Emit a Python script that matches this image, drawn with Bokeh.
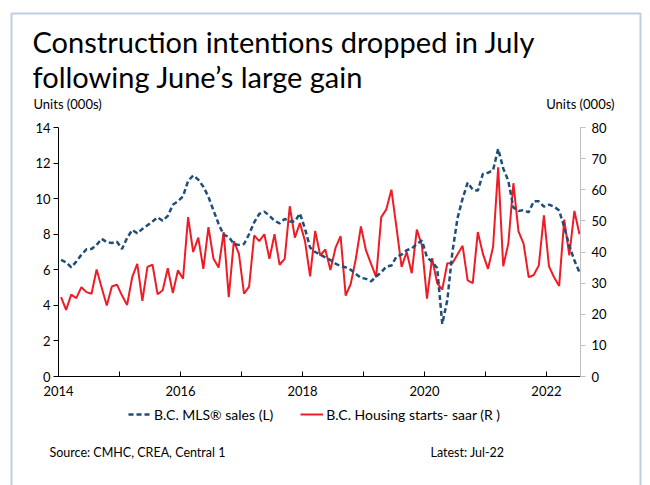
import pandas as pd
from bokeh.plotting import figure
from bokeh.models import (Range1d, LinearAxis, FixedTicker, Label, Legend, LegendItem,
                          BoxAnnotation, ColumnDataSource)
from bokeh.embed import file_html
from bokeh.resources import INLINE

# ---------------- data ----------------
months = pd.period_range("2014-01", "2022-07", freq="M")

mls_sales = [  # B.C. MLS sales, 000s units (left axis)
    6.56, 6.42, 6.14, 6.46, 6.85, 7.15, 7.17, 7.40, 7.74, 7.55, 7.51, 7.58,
    7.17, 7.79, 8.24, 8.05, 8.30, 8.50, 8.72, 8.95, 8.76, 9.03, 9.66, 9.85,
    10.13, 11.00, 11.30, 11.07, 10.67, 10.10, 9.33, 8.58, 7.96, 7.85, 7.45, 7.40,
    7.45, 8.00, 8.67, 9.14, 9.27, 9.04, 8.76, 8.61, 8.86, 8.72, 8.72, 9.17,
    8.30, 7.25, 7.00, 6.85, 6.70, 6.55, 6.35, 6.20, 6.14, 6.00, 5.77, 5.55,
    5.49, 5.35, 5.62, 5.86, 6.18, 6.24, 6.74, 6.85, 7.10, 7.20, 7.45, 7.65,
    6.70, 6.45, 6.10, 2.96, 4.30, 7.00, 8.90, 10.00, 10.90, 10.50, 10.45, 11.40,
    11.45, 11.60, 12.80, 11.70, 11.00, 9.50, 9.30, 9.36, 9.23, 9.85, 9.85, 9.55,
    9.66, 9.55, 9.33, 8.40, 7.36, 6.52, 5.86,
]

housing_starts = [  # B.C. housing starts, SAAR, 000s units (right axis)
    25.5, 21.4, 26.3, 25.2, 28.7, 27.1, 26.6, 34.4, 28.5, 22.8, 28.9, 29.5,
    26.0, 23.0, 31.9, 36.2, 24.3, 35.2, 35.9, 26.4, 27.7, 34.8, 26.8, 34.1,
    31.4, 51.2, 40.0, 44.6, 34.6, 48.0, 37.8, 35.0, 46.4, 25.5, 43.5, 39.4,
    26.6, 28.9, 45.3, 43.5, 45.7, 37.8, 45.7, 35.9, 37.8, 54.7, 44.6, 49.3,
    43.5, 32.2, 46.8, 38.9, 40.8, 34.2, 41.3, 45.1, 26.0, 29.8, 37.8, 48.2,
    40.5, 36.2, 31.9, 51.2, 53.7, 60.0, 47.8, 35.2, 40.0, 33.2, 47.2, 42.1,
    25.0, 38.0, 30.0, 27.9, 36.4, 36.4, 39.2, 42.0, 30.9, 30.0, 46.4, 39.4,
    34.6, 41.6, 67.2, 35.4, 42.7, 62.1, 46.6, 42.7, 31.9, 32.6, 35.7, 51.8,
    35.4, 31.9, 29.1, 50.4, 38.9, 53.2, 45.7,
]

year_ticks = list(range(2014, 2023))
left_ticks = [0, 2, 4, 6, 8, 10, 12, 14]
right_ticks = [0, 10, 20, 30, 40, 50, 60, 70, 80]

title_lines = ["Construction intentions dropped in July", "following June\u2019s large gain"]
series_names = ["B.C. MLS\u00ae sales (L)", "B.C. Housing starts- saar (R )"]
source_text = "Source: CMHC, CREA, Central 1"
latest_text = "Latest: Jul-22"
unit_text = "Units (000s)"

# ---------------- layout ----------------
W, H = 650, 485
PL, PR, PT, PB = 58, 580, 127, 376     # plotting box in canvas pixels
X0, X1 = 2014.0, 2022 + 6.7 / 12       # data extent of the plotting box
L0, L1 = 0.0, 14.0
R0, R1 = 0.0, 80.0
FONT = "Lato"
BLUE = "#1F4E79"
RED = "#EE1C25"
BORDER = "#2F5597"
TXT = "#000000"

# the frame covers the whole canvas; ranges are extended so that the data box
# lands on the plotting box
sx = (PR - PL) / (X1 - X0)
syl = (PB - PT) / (L1 - L0)
syr = (PB - PT) / (R1 - R0)
x_range = Range1d(X0 - PL / sx, X0 + (W - PL) / sx)
y_range = Range1d(L0 - (H - PB) / syl, L0 + PB / syl)
r_range = Range1d(R0 - (H - PB) / syr, R0 + PB / syr)

xpos = [m.year + (m.month - 0.5) / 12 for m in months]
src = ColumnDataSource(dict(x=xpos, mls=mls_sales, hs=housing_starts))

p = figure(width=W, height=H, output_backend="svg", toolbar_location=None,
           x_range=x_range, y_range=y_range, x_axis_location=None, y_axis_location=None,
           min_border=0, min_border_left=0, min_border_right=0,
           min_border_top=0, min_border_bottom=0)
p.extra_y_ranges = {"right": r_range}
p.outline_line_color = None
p.background_fill_color = "white"
p.border_fill_color = "white"
p.grid.visible = False

# axes at fixed positions
xa = LinearAxis(ticker=FixedTicker(ticks=year_ticks), fixed_location=L0, bounds=(X0, X1))
xa.major_label_overrides = {y: (str(y) if y % 2 == 0 else "") for y in year_ticks}
xa.axis_line_color = "#000000"
xa.major_tick_line_color = "#000000"
xa.major_tick_in = 5
xa.major_tick_out = 0
xa.minor_tick_line_color = None
xa.major_label_text_font = FONT
xa.major_label_text_font_size = "13px"
xa.major_label_text_color = TXT
xa.major_label_standoff = 9
p.add_layout(xa, "below")

ya = LinearAxis(ticker=FixedTicker(ticks=left_ticks), fixed_location=X0, bounds=(L0, L1))
ya.axis_line_color = "#000000"
ya.major_tick_line_color = "#000000"
ya.major_tick_in = 0
ya.major_tick_out = 5
ya.minor_tick_line_color = None
ya.major_label_text_font = FONT
ya.major_label_text_font_size = "13px"
ya.major_label_text_color = TXT
ya.major_label_standoff = 3
p.add_layout(ya, "left")

ra = LinearAxis(y_range_name="right", ticker=FixedTicker(ticks=right_ticks),
                fixed_location=X1, bounds=(R0, R1))
ra.axis_line_color = "#BFBFBF"
ra.major_tick_line_color = "#BFBFBF"
ra.major_tick_in = 0
ra.major_tick_out = 5
ra.minor_tick_line_color = None
ra.major_label_text_font = FONT
ra.major_label_text_font_size = "13px"
ra.major_label_text_color = TXT
ra.major_label_standoff = 6
p.add_layout(ra, "right")

# series
r_hs = p.line("x", "hs", source=src, y_range_name="right", line_color=RED, line_width=2)
r_mls = p.line("x", "mls", source=src, line_color=BLUE, line_width=2.5, line_dash="5 3")

# legend
legend = Legend(items=[LegendItem(label=series_names[0], renderers=[r_mls]),
                       LegendItem(label=series_names[1], renderers=[r_hs])],
                orientation="horizontal", location=(128, H - 423),
                label_text_font=FONT, label_text_font_size="14px",
                label_text_color=TXT, glyph_width=23, glyph_height=18,
                label_height=18, spacing=27, label_standoff=3,
                border_line_color=None, background_fill_alpha=0,
                padding=0, margin=0)
p.add_layout(legend, "center")

def lab(text, cx, cy, size, align="left", baseline="middle"):
    p.add_layout(Label(x=cx, y=H - cy, x_units="screen", y_units="screen",
                       text=text, text_font=FONT, text_font_size=size,
                       text_color=TXT, text_align=align, text_baseline=baseline))

lab(title_lines[0], 32, 41, "29px", baseline="alphabetic")
lab(title_lines[1], 32, 76, "29px", baseline="alphabetic")
lab(unit_text, 33, 103, "13px")
lab(unit_text, 614, 103, "13px", align="right")
lab(source_text, 49, 452, "12.5px")
lab(latest_text, 430, 452, "12.5px")

# slide border
p.add_layout(BoxAnnotation(left=11, right=640, top=H - 13, bottom=-20,
                           left_units="screen", right_units="screen",
                           top_units="screen", bottom_units="screen",
                           fill_alpha=0, line_color=BORDER, line_width=2))

open("out.html", "w").write(file_html(p, INLINE))
